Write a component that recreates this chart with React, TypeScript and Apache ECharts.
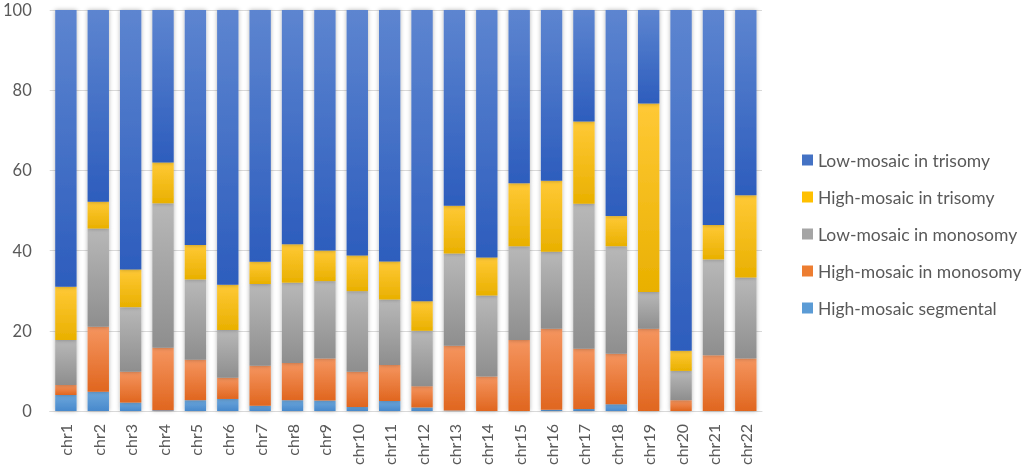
import React, { useEffect, useRef } from "react";
import * as echarts from "echarts";

const categories = ["chr1","chr2","chr3","chr4","chr5","chr6","chr7","chr8","chr9","chr10","chr11","chr12","chr13","chr14","chr15","chr16","chr17","chr18","chr19","chr20","chr21","chr22"];
const highSegmental = [4.0,4.8,2.1,0.2,2.7,3.0,1.3,2.7,2.6,1.0,2.5,0.9,0.1,0,0,0.3,0.5,1.7,0,0,0,0];
const highMonosomy = [2.5,16.2,7.7,15.6,10.1,5.3,10.0,9.3,10.5,8.8,9.0,5.3,16.2,8.6,17.7,20.2,15.0,12.6,20.5,2.7,13.9,13.1];
const lowMonosomy = [11.2,24.5,16.1,36.0,20.0,11.9,20.4,20.0,19.3,20.1,16.3,13.8,23.0,20.2,23.4,19.2,36.2,26.8,9.2,7.3,23.9,20.2];
const highTrisomy = [13.3,6.7,9.4,10.2,8.6,11.3,5.5,9.6,7.6,8.9,9.5,7.4,11.9,9.5,15.7,17.7,20.5,7.5,47.0,5.0,8.6,20.5];
const lowTrisomy = [69.0,47.8,64.7,38.0,58.6,68.5,62.8,58.4,60.0,61.2,62.7,72.6,48.8,61.7,43.2,42.6,27.8,51.4,23.3,85.0,53.6,46.2];
const yTicks = [0, 20, 40, 60, 80, 100];

const FONT = "Lato, 'Open Sans', sans-serif";

const grad = (top: string, bottom: string) =>
  new echarts.graphic.LinearGradient(0, 0, 0, 1, [
    { offset: 0, color: top },
    { offset: 1, color: bottom },
  ]);

export default function App() {
  const ref = useRef<HTMLDivElement>(null);
  useEffect(() => {
    if (!ref.current) return;
    const chart = echarts.init(ref.current, undefined, { renderer: "svg" });
    const mk = (name: string, data: number[], top: string, bottom: string) => ({
      name,
      type: "bar",
      stack: "all",
      data,
      barCategoryGap: "34%",
      itemStyle: {
        color: grad(top, bottom),
        shadowBlur: 4,
        shadowColor: "rgba(0,0,0,0.3)",
      },
      emphasis: { disabled: true },
    });
    chart.setOption({
      animation: false,
      grid: { left: 47, right: 264, top: 10, bottom: 60, containLabel: false },
      legend: {
        orient: "vertical",
        left: 797,
        top: 145,
        itemWidth: 11,
        itemHeight: 11,
        itemGap: 17,
        icon: "rect",
        data: [
          { name: "Low-mosaic in trisomy", itemStyle: { color: "#4472c4" } },
          { name: "High-mosaic in trisomy", itemStyle: { color: "#ffc000" } },
          { name: "Low-mosaic in monosomy", itemStyle: { color: "#a5a5a5" } },
          { name: "High-mosaic in monosomy", itemStyle: { color: "#ed7d31" } },
          { name: "High-mosaic segmental", itemStyle: { color: "#5b9bd5" } },
        ],
        textStyle: { fontFamily: FONT, fontSize: 17.5, lineHeight: 20, color: "#595959" },
      },
      xAxis: {
        type: "category",
        data: categories,
        axisLine: { lineStyle: { color: "#d9d9d9", width: 1 } },
        axisTick: { show: false },
        axisLabel: { rotate: 90, margin: 13, fontFamily: FONT, fontSize: 16, color: "#595959", interval: 0 },
      },
      yAxis: {
        type: "value",
        min: yTicks[0],
        max: yTicks[yTicks.length - 1],
        interval: 20,
        axisLine: { show: false },
        axisTick: { show: false },
        splitLine: { lineStyle: { color: "#d9d9d9", width: 1 } },
        axisLabel: { margin: 18, fontFamily: FONT, fontSize: 16.5, color: "#595959" },
      },
      series: [
        mk("High-mosaic segmental", highSegmental, "#6ca7dc", "#4889cc"),
        mk("High-mosaic in monosomy", highMonosomy, "#f5955f", "#e0661f"),
        mk("Low-mosaic in monosomy", lowMonosomy, "#b8b8b8", "#8e8e8e"),
        mk("High-mosaic in trisomy", highTrisomy, "#ffc936", "#e9b000"),
        mk("Low-mosaic in trisomy", lowTrisomy, "#5d85d0", "#2d5dbd"),
      ],
    });
    return () => chart.dispose();
  }, []);
  return <div ref={ref} style={{ position: "fixed", left: 0, top: 0, width: 1026, height: 471 }} />;
}
